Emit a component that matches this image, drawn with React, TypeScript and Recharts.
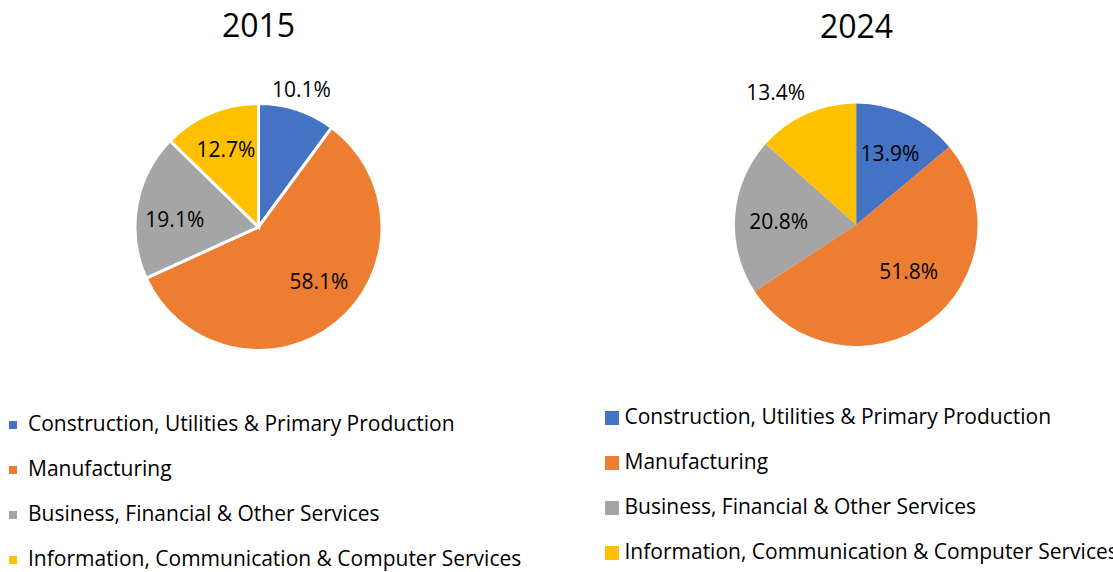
import React from 'react';
import { PieChart, Pie, Cell, Legend } from 'recharts';

const CATEGORIES = [
  'Construction, Utilities & Primary Production',
  'Manufacturing',
  'Business, Financial & Other Services',
  'Information, Communication & Computer Services',
];
const COLORS = ['#4472C4', '#ED7D31', '#A5A5A5', '#FFC000'];
const YEARS = ['2015', '2024'];
const VALUES_2015 = [10.1, 58.1, 19.1, 12.7];
const VALUES_2024 = [13.9, 51.8, 20.8, 13.4];

const data2015 = CATEGORIES.map((name, i) => ({ name, value: VALUES_2015[i] }));
const data2024 = CATEGORIES.map((name, i) => ({ name, value: VALUES_2024[i] }));

const FONT = '"Open Sans", sans-serif';

// label placement: radius factor and angle adjustment per slice
const LABEL_2015 = [
  { r: 1.17, da: 0.9 },
  { r: 0.66, da: 8.9 },
  { r: 0.68, da: 5 },
  { r: 0.68, da: 0 },
];
const LABEL_2024 = [
  { r: 0.65, da: -0.3 },
  { r: 0.58, da: 11.7 },
  { r: 0.64, da: 1.8 },
  { r: 1.275, da: 7.2 },
];

const makeLabel = (placement: { r: number; da: number }[]) => (props: any) => {
  const { cx, cy, midAngle, outerRadius, index, value } = props;
  const p = placement[index];
  const ang = ((midAngle + p.da) * Math.PI) / 180;
  const r = outerRadius * p.r;
  const x = cx + r * Math.cos(ang);
  const y = cy - r * Math.sin(ang);
  return (
    <text x={x} y={y + 7.5} textAnchor="middle" fontSize={21} fontFamily={FONT} fill="#000">
      {`${Number(value).toFixed(1)}%`}
    </text>
  );
};

const LegendContent = () => {
  const rowsLeft = CATEGORIES.map((c, i) => (
    <div key={'l' + i} style={{ position: 'absolute', left: 0, top: 401.4 + i * 45, height: 45, lineHeight: '45px', whiteSpace: 'nowrap' }}>
      <span style={{ position: 'absolute', left: 9, top: 20, width: 8, height: 8, background: COLORS[i] }} />
      <span style={{ position: 'absolute', left: 28, top: 0 }}>{c}</span>
    </div>
  ));
  const rowsRight = CATEGORIES.map((c, i) => (
    <div key={'r' + i} style={{ position: 'absolute', left: 0, top: 394.4 + i * 45, height: 45, lineHeight: '45px', whiteSpace: 'nowrap' }}>
      <span style={{ position: 'absolute', left: 605, top: 16.6, width: 14, height: 14, background: COLORS[i] }} />
      <span style={{ position: 'absolute', left: 624.5, top: 0 }}>{c}</span>
    </div>
  ));
  return (
    <div style={{ position: 'relative', width: 1113, height: 572, fontFamily: FONT, fontSize: 21, color: '#000' }}>
      {rowsLeft}
      {rowsRight}
    </div>
  );
};

export default function App() {
  return (
    <div style={{ position: 'absolute', left: 0, top: 0, width: 1113, height: 572, background: '#fff', overflow: 'hidden', fontFamily: FONT }}>
      <div style={{ position: 'absolute', left: 158.5, top: 9, width: 200, textAlign: 'center', fontSize: 32, lineHeight: '32px', color: '#000' }}>{YEARS[0]}</div>
      <div style={{ position: 'absolute', left: 756.5, top: 9.5, width: 200, textAlign: 'center', fontSize: 32, lineHeight: '32px', color: '#000' }}>{YEARS[1]}</div>
      <PieChart
        width={1113}
        height={572}
        margin={{ top: 0, right: 0, bottom: 0, left: 0 }}
        style={{ position: 'absolute', left: 0, top: 0 }}
      >
        <Pie
          data={data2015}
          dataKey="value"
          nameKey="name"
          cx={258.5}
          cy={227}
          outerRadius={123.5}
          startAngle={90}
          endAngle={-270}
          stroke="#fff"
          strokeWidth={3}
          label={makeLabel(LABEL_2015)}
          labelLine={false}
          isAnimationActive={false}
        >
          {data2015.map((d, i) => (
            <Cell key={i} fill={COLORS[i]} />
          ))}
        </Pie>
        <Pie
          data={data2024}
          dataKey="value"
          nameKey="name"
          cx={856.2}
          cy={224.7}
          outerRadius={121.3}
          startAngle={90}
          endAngle={-270}
          stroke="none"
          label={makeLabel(LABEL_2024)}
          labelLine={false}
          isAnimationActive={false}
        >
          {data2024.map((d, i) => (
            <Cell key={i} fill={COLORS[i]} stroke="none" />
          ))}
        </Pie>
        <Legend
          content={() => <LegendContent />}
          wrapperStyle={{ position: 'absolute', left: 0, top: 0, width: 1113, height: 572, pointerEvents: 'none' }}
        />
      </PieChart>
    </div>
  );
}
